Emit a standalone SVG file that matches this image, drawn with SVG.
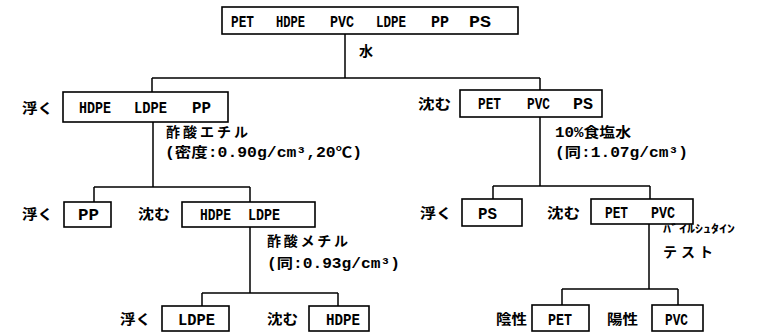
<svg xmlns="http://www.w3.org/2000/svg" width="763" height="333" viewBox="0 0 763 333">
<style>
.box{fill:#fff;stroke:#000;stroke-width:1.6}
.ln{fill:none;stroke:#000;stroke-width:1.5}
.w{font-family:"Liberation Mono",monospace;font-weight:bold;font-size:17px;fill:#000}
.j{font-family:"Noto Sans CJK JP",sans-serif;font-weight:bold;font-size:14px;fill:#000}
.s{font-family:"Liberation Mono","Noto Sans CJK JP",monospace;font-weight:bold;font-size:14px;fill:#000}
</style>
<rect width="763" height="333" fill="#fff"/>
<g id="connectors">
<path class="ln" d="M345 34V78M152 78H540M152 78V92M540 78V90"/>
<path class="ln" d="M153 122V187M94 187H250M94 187V202M250 187V202"/>
<path class="ln" d="M250 227V293M202 293H338M202 293V306M338 293V306"/>
<path class="ln" d="M540 117V186M493 186H650M493 186V199M650 186V199"/>
<path class="ln" d="M649 224V289M562 289H678M562 289V305M678 289V305"/>
</g>
<g id="n-all">
<rect class="box" x="222" y="7" width="296" height="27"/>
<text class="w" x="231" y="27" textLength="23" lengthAdjust="spacingAndGlyphs">PET</text>
<text class="w" x="276" y="27" textLength="29" lengthAdjust="spacingAndGlyphs">HDPE</text>
<text class="w" x="330" y="27" textLength="24" lengthAdjust="spacingAndGlyphs">PVC</text>
<text class="w" x="376" y="27" textLength="30" lengthAdjust="spacingAndGlyphs">LDPE</text>
<text class="w" x="431" y="27" textLength="18" lengthAdjust="spacingAndGlyphs">PP</text>
<text class="w" x="469" y="27" textLength="22" lengthAdjust="spacingAndGlyphs">PS</text>
</g>
<text class="j" x="359" y="56">水</text>
<g id="n-float1">
<text class="j" x="22" y="113" textLength="31" lengthAdjust="spacingAndGlyphs">浮く</text>
<rect class="box" x="63" y="92" width="165" height="30"/>
<text class="w" x="79" y="113" textLength="32" lengthAdjust="spacingAndGlyphs">HDPE</text>
<text class="w" x="134" y="113" textLength="33" lengthAdjust="spacingAndGlyphs">LDPE</text>
<text class="w" x="192" y="113" textLength="19" lengthAdjust="spacingAndGlyphs">PP</text>
</g>
<text class="j" x="166" y="137" textLength="82" lengthAdjust="spacing">酢酸エチル</text>
<text class="s" x="165" y="157" textLength="197" lengthAdjust="spacingAndGlyphs">(密度:0.90g/cm³,20℃)</text>
<g id="n-sink1">
<text class="j" x="418" y="109" textLength="33" lengthAdjust="spacingAndGlyphs">沈む</text>
<rect class="box" x="460" y="90" width="142" height="27"/>
<text class="w" x="478" y="109" textLength="23" lengthAdjust="spacingAndGlyphs">PET</text>
<text class="w" x="527" y="109" textLength="23" lengthAdjust="spacingAndGlyphs">PVC</text>
<text class="w" x="573" y="109" textLength="20" lengthAdjust="spacingAndGlyphs">PS</text>
</g>
<text class="s" x="555" y="137" textLength="76" lengthAdjust="spacingAndGlyphs">10%食塩水</text>
<text class="s" x="555" y="157" textLength="133" lengthAdjust="spacingAndGlyphs">(同:1.07g/cm³)</text>
<g id="n-pp">
<text class="j" x="22" y="219" textLength="31" lengthAdjust="spacingAndGlyphs">浮く</text>
<rect class="box" x="64" y="202" width="47" height="25"/>
<text class="w" x="78" y="220" textLength="21" lengthAdjust="spacingAndGlyphs">PP</text>
</g>
<g id="n-hdpe-ldpe">
<text class="j" x="138" y="219" textLength="32" lengthAdjust="spacingAndGlyphs">沈む</text>
<rect class="box" x="182" y="202" width="133" height="25"/>
<text class="w" x="200" y="220" textLength="31" lengthAdjust="spacingAndGlyphs">HDPE</text>
<text class="w" x="248" y="220" textLength="32" lengthAdjust="spacingAndGlyphs">LDPE</text>
</g>
<text class="j" x="267" y="246" textLength="81" lengthAdjust="spacing">酢酸メチル</text>
<text class="s" x="267" y="268" textLength="133" lengthAdjust="spacingAndGlyphs">(同:0.93g/cm³)</text>
<g id="n-ps">
<text class="j" x="420" y="218" textLength="32" lengthAdjust="spacingAndGlyphs">浮く</text>
<rect class="box" x="462" y="199" width="60" height="27"/>
<text class="w" x="478" y="219" textLength="19" lengthAdjust="spacingAndGlyphs">PS</text>
</g>
<g id="n-pet-pvc">
<text class="j" x="547" y="218" textLength="33" lengthAdjust="spacingAndGlyphs">沈む</text>
<rect class="box" x="591" y="199" width="102" height="25"/>
<text class="w" x="605" y="218" textLength="23" lengthAdjust="spacingAndGlyphs">PET</text>
<text class="w" x="651" y="218" textLength="24" lengthAdjust="spacingAndGlyphs">PVC</text>
</g>
<text class="j" x="663" y="233" style="font-size:11px" textLength="72" lengthAdjust="spacingAndGlyphs">ﾊﾞｲﾙｼｭﾀｲﾝ</text>
<text class="j" x="663" y="257" textLength="50" lengthAdjust="spacing">テスト</text>
<g id="n-ldpe">
<text class="j" x="120" y="324" textLength="31" lengthAdjust="spacingAndGlyphs">浮く</text>
<rect class="box" x="162" y="306" width="67" height="25"/>
<text class="w" x="178" y="325" textLength="37" lengthAdjust="spacingAndGlyphs">LDPE</text>
</g>
<g id="n-hdpe">
<text class="j" x="267" y="324" textLength="31" lengthAdjust="spacingAndGlyphs">沈む</text>
<rect class="box" x="309" y="306" width="60" height="25"/>
<text class="w" x="326" y="325" textLength="34" lengthAdjust="spacingAndGlyphs">HDPE</text>
</g>
<g id="n-pet">
<text class="j" x="496" y="324" textLength="31" lengthAdjust="spacingAndGlyphs">陰性</text>
<rect class="box" x="532" y="305" width="57" height="26"/>
<text class="w" x="548" y="325" textLength="24" lengthAdjust="spacingAndGlyphs">PET</text>
</g>
<g id="n-pvc">
<text class="j" x="607" y="324" textLength="31" lengthAdjust="spacingAndGlyphs">陽性</text>
<rect class="box" x="652" y="305" width="51" height="26"/>
<text class="w" x="665" y="325" textLength="23" lengthAdjust="spacingAndGlyphs">PVC</text>
</g>
</svg>
